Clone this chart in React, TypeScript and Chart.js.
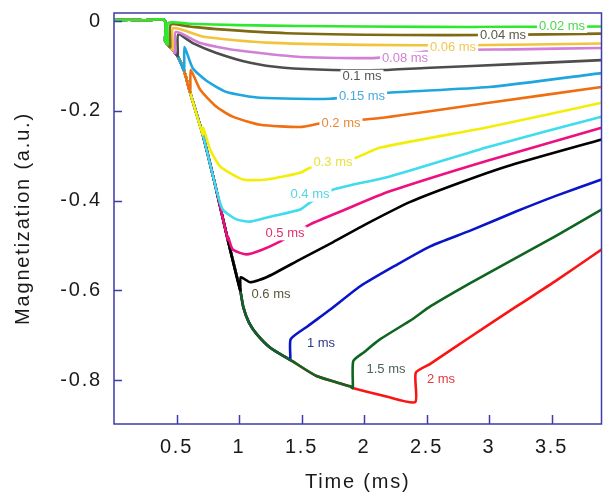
import React, { useEffect, useRef } from "react";
import { Chart, registerables } from "chart.js";

Chart.register(...registerables);

// ---- data ----
const pulseLabels = ["0.02 ms", "0.04 ms", "0.06 ms", "0.08 ms", "0.1 ms", "0.15 ms", "0.2 ms", "0.3 ms", "0.4 ms", "0.5 ms", "0.6 ms", "1 ms", "1.5 ms", "2 ms"];
const pulseWidths = [0.02, 0.04, 0.06, 0.08, 0.1, 0.15, 0.2, 0.3, 0.4, 0.5, 0.6, 1, 1.5, 2];
const pulseStart = 0.41;

const xTickValues = [0.5, 1, 1.5, 2, 2.5, 3, 3.5];
const yTickValues = [0, -0.2, -0.4, -0.6, -0.8];

// before the pulse (common to all traces)
const baselineT = [0, 0.12, 0.25, 0.405];
const baselineM = [0.002, 0.003, 0.002, 0.002];

// common decay while the pulse is on (each trace follows it until its pulse ends)
const envelopeT = [0.41, 0.43, 0.45, 0.47, 0.49, 0.51, 0.56, 0.61, 0.71, 0.81, 0.91, 1.01, 1.035, 1.08, 1.14, 1.25, 1.39, 1.41, 1.62, 1.89, 1.91, 2.17, 2.41];
const envelopeM = [-0.045, -0.052, -0.058, -0.064, -0.071, -0.078, -0.11, -0.16, -0.253, -0.366, -0.487, -0.6, -0.638, -0.672, -0.697, -0.728, -0.752, -0.755, -0.791, -0.814, -0.818, -0.836, -0.849];

// after the pulse: [time (ms), magnetization]
const rec002: [number, number][] = [[0.434, -0.004], [0.6, -0.006], [1.0, -0.009], [1.5, -0.011], [2.5, -0.013], [3.2, -0.013], [3.9, -0.012]];
const rec004: [number, number][] = [[0.454, -0.008], [0.6, -0.012], [0.82, -0.018], [1.38, -0.027], [2.3, -0.031], [3.0, -0.031], [3.9, -0.028]];
const rec006: [number, number][] = [[0.474, -0.016], [0.72, -0.035], [1.22, -0.048], [2.0, -0.053], [2.8, -0.054], [3.9, -0.05]];
const rec008: [number, number][] = [[0.494, -0.024], [0.69, -0.049], [0.95, -0.064], [1.49, -0.08], [2.1, -0.082], [2.55, -0.066], [3.2, -0.063], [3.9, -0.06]];
const rec010: [number, number][] = [[0.514, -0.03], [0.63, -0.049], [0.82, -0.071], [1.09, -0.093], [1.36, -0.104], [1.75, -0.109], [2.15, -0.109], [2.53, -0.104], [3.2, -0.096], [3.9, -0.087]];
const rec015: [number, number][] = [[0.564, -0.058], [0.63, -0.105], [0.74, -0.133], [0.9, -0.158], [1.17, -0.171], [1.73, -0.173], [2.17, -0.16], [3.0, -0.147], [3.9, -0.116]];
const rec020: [number, number][] = [[0.614, -0.109], [0.69, -0.153], [0.82, -0.191], [0.95, -0.213], [1.17, -0.231], [1.49, -0.236], [1.67, -0.227], [2.13, -0.216], [3.0, -0.182], [3.9, -0.147]];
const rec030: [number, number][] = [[0.714, -0.238], [0.77, -0.287], [0.85, -0.324], [1.03, -0.353], [1.22, -0.353], [1.49, -0.338], [1.57, -0.327], [1.94, -0.304], [2.13, -0.282], [3.0, -0.236], [3.9, -0.182]];
const rec040: [number, number][] = [[0.814, -0.371], [0.87, -0.42], [0.98, -0.442], [1.09, -0.447], [1.25, -0.436], [1.49, -0.42], [1.57, -0.404], [1.75, -0.376], [2.2, -0.347], [3.0, -0.28], [3.9, -0.213]];
const rec050: [number, number][] = [[0.914, -0.482], [0.95, -0.509], [1.06, -0.52], [1.19, -0.509], [1.33, -0.491], [1.57, -0.453], [1.85, -0.42], [2.2, -0.38], [3.0, -0.31], [3.9, -0.238]];
const rec060: [number, number][] = [[1.014, -0.571], [1.09, -0.582], [1.22, -0.571], [1.49, -0.531], [1.75, -0.493], [2.02, -0.452], [2.37, -0.403], [2.75, -0.362], [3.14, -0.324], [3.9, -0.264]];
const rec100: [number, number][] = [[1.414, -0.709], [1.55, -0.68], [1.73, -0.643], [1.97, -0.591], [2.25, -0.545], [2.53, -0.502], [2.85, -0.467], [3.22, -0.424], [3.54, -0.389], [3.9, -0.353]];
const rec150: [number, number][] = [[1.914, -0.758], [2.0, -0.738], [2.13, -0.709], [2.39, -0.664], [2.53, -0.636], [2.85, -0.584], [3.22, -0.527], [3.54, -0.478], [3.9, -0.42]];
const rec200: [number, number][] = [[2.414, -0.784], [2.53, -0.764], [2.85, -0.704], [3.22, -0.636], [3.54, -0.578], [3.9, -0.509]];
const recoveries = [rec002, rec004, rec006, rec008, rec010, rec015, rec020, rec030, rec040, rec050, rec060, rec100, rec150, rec200];

const lineColors = ["#2de82d", "#7d6a12", "#f2c43c", "#d27fd8", "#4d4d4d", "#1fa6df", "#ef6e12", "#f2ee0a", "#3fdcee", "#ec1080", "#000000", "#0a14c8", "#0f6420", "#fa1414"];
const drawOrder = [0, 1, 2, 3, 4, 5, 6, 7, 8, 9, 10, 12, 11, 13];

const labelColors = ["#4cd64c", "#5c5a48", "#f0c850", "#cf7fd6", "#555555", "#4aa8de", "#e88a3a", "#e6e23c", "#52d6e2", "#e0306a", "#5a5538", "#2a3a8a", "#4a6458", "#e03a3a"];
const labelT = [3.584, 3.112, 2.712, 2.328, 1.984, 1.984, 1.816, 1.752, 1.568, 1.368, 1.256, 1.656, 2.176, 2.616];
const labelM = [-0.011, -0.031, -0.058, -0.084, -0.124, -0.169, -0.227, -0.316, -0.387, -0.473, -0.609, -0.718, -0.776, -0.798];

const AXIS_COLOR = "#3c3caa";
const FONT = "'Liberation Sans', Arial, sans-serif";

export default function App() {
  const ref = useRef<HTMLCanvasElement>(null);

  useEffect(() => {
    const canvas = ref.current;
    if (!canvas) return;

    const datasets = pulseWidths.map((w, i) => {
      const end = pulseStart + w + 1e-6;
      const pts: { x: number; y: number }[] = [];
      baselineT.forEach((t, k) => pts.push({ x: t, y: baselineM[k] }));
      envelopeT.forEach((t, k) => {
        if (t <= end) pts.push({ x: t, y: envelopeM[k] });
      });
      recoveries[i].forEach(([t, m]) => pts.push({ x: t, y: m }));
      return {
        label: pulseLabels[i],
        data: pts,
        borderColor: lineColors[i],
        backgroundColor: lineColors[i],
        borderWidth: 2.6,
        pointRadius: 0,
        fill: false,
        tension: 0.2,
        borderJoinStyle: "round" as const,
        order: drawOrder[i],
      };
    });

    const textSpacing = {
      id: "textSpacing",
      beforeDraw(chart: any) {
        chart.ctx.letterSpacing = "1.8px";
      },
      beforeDatasetsDraw(chart: any) {
        chart.ctx.letterSpacing = "0px";
      },
    };

    const curveLabels = {
      id: "curveLabels",
      afterDatasetsDraw(chart: any) {
        const ctx = chart.ctx;
        const xs = chart.scales.x;
        const ys = chart.scales.y;
        ctx.save();
        ctx.letterSpacing = "0px";
        ctx.font = `13px ${FONT}`;
        ctx.textAlign = "center";
        ctx.textBaseline = "middle";
        pulseLabels.forEach((txt, i) => {
          const px = xs.getPixelForValue(labelT[i]);
          const py = ys.getPixelForValue(labelM[i]);
          const w = ctx.measureText(txt).width;
          ctx.fillStyle = "#ffffff";
          ctx.fillRect(px - w / 2 - 2, py - 7, w + 4, 14);
          ctx.fillStyle = labelColors[i];
          ctx.fillText(txt, px, py);
        });
        ctx.restore();
      },
      afterDraw(chart: any) {
        const ctx = chart.ctx;
        const xs = chart.scales.x;
        const ys = chart.scales.y;
        const { left, right, top, bottom } = chart.chartArea;
        ctx.save();
        ctx.strokeStyle = AXIS_COLOR;
        ctx.lineWidth = 1.5;
        ctx.beginPath();
        xTickValues.forEach((v) => {
          const px = Math.round(xs.getPixelForValue(v)) + 0.5;
          ctx.moveTo(px, bottom);
          ctx.lineTo(px, bottom - 9);
        });
        yTickValues.forEach((v) => {
          const py = Math.round(ys.getPixelForValue(v)) + 0.5;
          ctx.moveTo(left, py);
          ctx.lineTo(left + 8, py);
        });
        ctx.stroke();
        ctx.strokeRect(left, top, right - left, bottom - top);
        ctx.restore();
      },
    };

    const chart = new Chart(canvas, {
      type: "line",
      data: { datasets },
      options: {
        responsive: false,
        animation: false,
        devicePixelRatio: 1,
        parsing: false,
        normalized: true,
        layout: { padding: { top: 13, right: 1.5, left: 0, bottom: 0 } },
        plugins: {
          legend: { display: false },
          tooltip: { enabled: false },
        },
        scales: {
          x: {
            type: "linear",
            min: 0,
            max: 3.9,
            grid: { display: false, drawTicks: false },
            border: { display: false },
            afterBuildTicks: (s: any) => {
              s.ticks = xTickValues.map((v) => ({ value: v }));
            },
            afterFit: (s: any) => {
              s.height = 71;
              s.paddingLeft = 0;
              s.paddingRight = 0;
            },
            ticks: {
              padding: 11,
              color: "#1a1a1a",
              font: { family: FONT, size: 20 },
              maxRotation: 0,
              autoSkip: false,
              callback: (v: any) => String(v),
            },
            title: {
              display: true,
              text: "Time (ms)",
              color: "#1a1a1a",
              font: { family: FONT, size: 20 },
              padding: { top: 0, bottom: 1 },
            },
          },
          y: {
            type: "linear",
            min: -0.898,
            max: 0.018,
            grid: { display: false, drawTicks: false },
            border: { display: false },
            afterBuildTicks: (s: any) => {
              s.ticks = yTickValues.map((v) => ({ value: v }));
            },
            afterFit: (s: any) => {
              s.width = 114;
              s.paddingTop = 0;
              s.paddingBottom = 0;
            },
            ticks: {
              padding: 12,
              color: "#1a1a1a",
              font: { family: FONT, size: 20 },
              autoSkip: false,
              callback: (v: any) => String(v),
            },
            title: {
              display: true,
              text: "Magnetization (a.u.)",
              color: "#1a1a1a",
              font: { family: FONT, size: 20 },
              padding: { top: 11, bottom: 0 },
            },
          },
        },
      },
      plugins: [textSpacing, curveLabels],
    } as any);

    return () => chart.destroy();
  }, []);

  return (
    <div style={{ position: "fixed", left: 0, top: 0, width: 603, height: 495, background: "#ffffff" }}>
      <canvas ref={ref} width={603} height={495} style={{ display: "block" }} />
    </div>
  );
}
